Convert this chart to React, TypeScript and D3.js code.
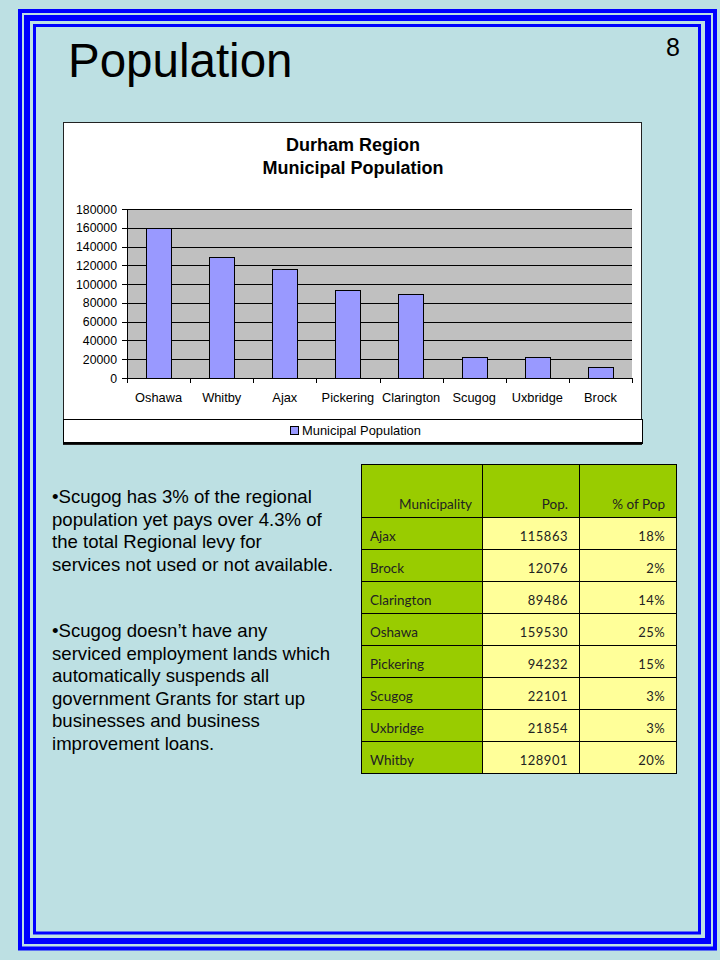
import React from "react";
import * as d3 from "d3";

const municipalities = ["Oshawa", "Whitby", "Ajax", "Pickering", "Clarington", "Scugog", "Uxbridge", "Brock"];
const populations = [159530, 128901, 115863, 94232, 89486, 22101, 21854, 12076];
const yTicks = [0, 20000, 40000, 60000, 80000, 100000, 120000, 140000, 160000, 180000];

const tableHeaders = ["Municipality", "Pop.", "% of Pop"];
const tableNames = ["Ajax", "Brock", "Clarington", "Oshawa", "Pickering", "Scugog", "Uxbridge", "Whitby"];
const tablePops = [115863, 12076, 89486, 159530, 94232, 22101, 21854, 128901];
const tablePct = ["18%", "2%", "14%", "25%", "15%", "3%", "3%", "20%"];

const bullet1 = ["•Scugog has 3% of the regional", "population yet pays over 4.3% of", "the total Regional levy for", "services not used or not available."];
const bullet2 = ["•Scugog doesn’t have any", "serviced employment lands which", "automatically suspends all", "government Grants for start up", "businesses and business", "improvement loans."];

const BG = "#BDE0E3";
const BLUE = "#0000FF";
const ARIAL = "Arial, 'Liberation Sans', sans-serif";
const TFONT = "Lato, 'Open Sans', sans-serif";

export default function App() {
  const plot = { x0: 127, x1: 632, y0: 209, y1: 378 };
  const x = d3.scaleBand<string>().domain(municipalities).range([plot.x0, plot.x1]).paddingInner(0.6).paddingOuter(0.3);
  const y = d3.scaleLinear().domain([0, 180000]).range([plot.y1, plot.y0]);
  const fmt = d3.format("d");
  const step = x.step();
  const boundaries = d3.range(municipalities.length + 1).map((i) => plot.x0 + i * step);

  const tx = [361, 482, 579, 676];
  const rowY = d3.scaleLinear().domain([0, 1]).range([517, 549]);

  return (
    <svg width={720} height={960} style={{ position: "absolute", left: 0, top: 0 }} xmlns="http://www.w3.org/2000/svg">
      <rect x={0} y={0} width={720} height={960} fill={BG} />
      {/* triple border */}
      <rect x={20} y={11} width={695} height={937.5} fill="none" stroke={BLUE} strokeWidth={4} />
      <rect x={27} y={18} width={681} height={923} fill="none" stroke={BLUE} strokeWidth={6} />
      <rect x={34.5} y={25.5} width={665} height={907.5} fill="none" stroke={BLUE} strokeWidth={3} />

      <text x={68} y={77} fontFamily={ARIAL} fontSize={47.5} fill="#000">Population</text>
      <text x={673} y={56} fontFamily={ARIAL} fontSize={25} fill="#000" textAnchor="middle">8</text>

      {/* chart box */}
      <rect x={63.5} y={122.5} width={578} height={322} fill="#fff" stroke="#222" strokeWidth={1} />
      <text x={353} y={151} fontFamily={ARIAL} fontSize={18} fontWeight="bold" textAnchor="middle">Durham Region</text>
      <text x={353} y={174} fontFamily={ARIAL} fontSize={18} fontWeight="bold" textAnchor="middle">Municipal Population</text>

      <rect x={plot.x0} y={plot.y0} width={plot.x1 - plot.x0} height={plot.y1 - plot.y0} fill="#C0C0C0" />
      {yTicks.map((t) => (
        <g key={t}>
          {t > 0 && <line x1={plot.x0} x2={plot.x1} y1={Math.round(y(t)) + 0.5} y2={Math.round(y(t)) + 0.5} stroke="#000" />}
          <line x1={plot.x0 - 5} x2={plot.x0} y1={Math.round(y(t)) + 0.5} y2={Math.round(y(t)) + 0.5} stroke="#000" />
          <text x={117} y={y(t) + 4.5} fontFamily={ARIAL} fontSize={12.3} textAnchor="end">{fmt(t)}</text>
        </g>
      ))}
      {municipalities.map((m, i) => (
        <rect key={m} x={Math.round(x(m)!) + 0.5} y={Math.round(y(populations[i])) + 0.5} width={Math.round(x.bandwidth())} height={Math.round(plot.y1 - y(populations[i]))} fill="#9999FF" stroke="#000" strokeWidth={1} />
      ))}
      <line x1={plot.x0 + 0.5} x2={plot.x0 + 0.5} y1={plot.y0} y2={plot.y1} stroke="#000" />
      <line x1={plot.x0} x2={plot.x1} y1={plot.y1 + 0.5} y2={plot.y1 + 0.5} stroke="#000" />
      {boundaries.map((b, i) => (
        <line key={i} x1={Math.round(b) + 0.5} x2={Math.round(b) + 0.5} y1={plot.y1} y2={plot.y1 + 5} stroke="#000" />
      ))}
      {municipalities.map((m) => (
        <text key={m} x={x(m)! + x.bandwidth() / 2} y={402} fontFamily={ARIAL} fontSize={12.8} textAnchor="middle">{m}</text>
      ))}

      {/* legend */}
      <rect x={63.5} y={419.5} width={579} height={23} fill="#fff" stroke="#000" />
      <line x1={642.5} x2={642.5} y1={419} y2={444} stroke="#000" />
      <line x1={63} x2={643} y1={443.5} y2={443.5} stroke="#000" />
      <rect x={290.5} y={426.5} width={8} height={8} fill="#9999FF" stroke="#000" />
      <text x={302} y={435} fontFamily={ARIAL} fontSize={12.9}>Municipal Population</text>

      {/* bullets */}
      {bullet1.map((l, i) => (
        <text key={"a" + i} x={52} y={503 + i * 22.5} fontFamily={ARIAL} fontSize={18.6}>{l}</text>
      ))}
      {bullet2.map((l, i) => (
        <text key={"b" + i} x={52} y={637 + i * 22.5} fontFamily={ARIAL} fontSize={18.6}>{l}</text>
      ))}

      {/* table */}
      <rect x={tx[0]} y={464} width={tx[3] - tx[0]} height={517 - 464} fill="#99CC00" />
      {tableNames.map((n, i) => {
        const top = rowY(i);
        const h = rowY(i + 1) - top;
        return (
          <g key={n}>
            <rect x={tx[0]} y={top} width={tx[1] - tx[0]} height={h} fill="#99CC00" />
            <rect x={tx[1]} y={top} width={tx[3] - tx[1]} height={h} fill="#FFFF99" />
            <text x={370} y={top + 24} fontFamily={TFONT} fontSize={13.5} fill="#222">{n}</text>
            <text x={568} y={top + 24} fontFamily={TFONT} fontSize={13} fill="#222" textAnchor="end" letterSpacing={0.5}>{tablePops[i]}</text>
            <text x={665} y={top + 24} fontFamily={TFONT} fontSize={13} fill="#222" textAnchor="end" letterSpacing={0.4}>{tablePct[i]}</text>
          </g>
        );
      })}
      <text x={472} y={509} fontFamily={TFONT} fontSize={13.5} fill="#222" textAnchor="end">{tableHeaders[0]}</text>
      <text x={568} y={509} fontFamily={TFONT} fontSize={13.5} fill="#222" textAnchor="end">{tableHeaders[1]}</text>
      <text x={665} y={509} fontFamily={TFONT} fontSize={13.5} fill="#222" textAnchor="end">{tableHeaders[2]}</text>
      {[464, ...tableNames.map((_, i) => rowY(i + 1)), 517].map((yy, i) => (
        <line key={"h" + i} x1={tx[0]} x2={tx[3]} y1={yy + 0.5} y2={yy + 0.5} stroke="#000" />
      ))}
      {tx.map((xx, i) => (
        <line key={"v" + i} x1={xx + 0.5} x2={xx + 0.5} y1={464} y2={rowY(tableNames.length) + 1} stroke="#000" />
      ))}
    </svg>
  );
}
